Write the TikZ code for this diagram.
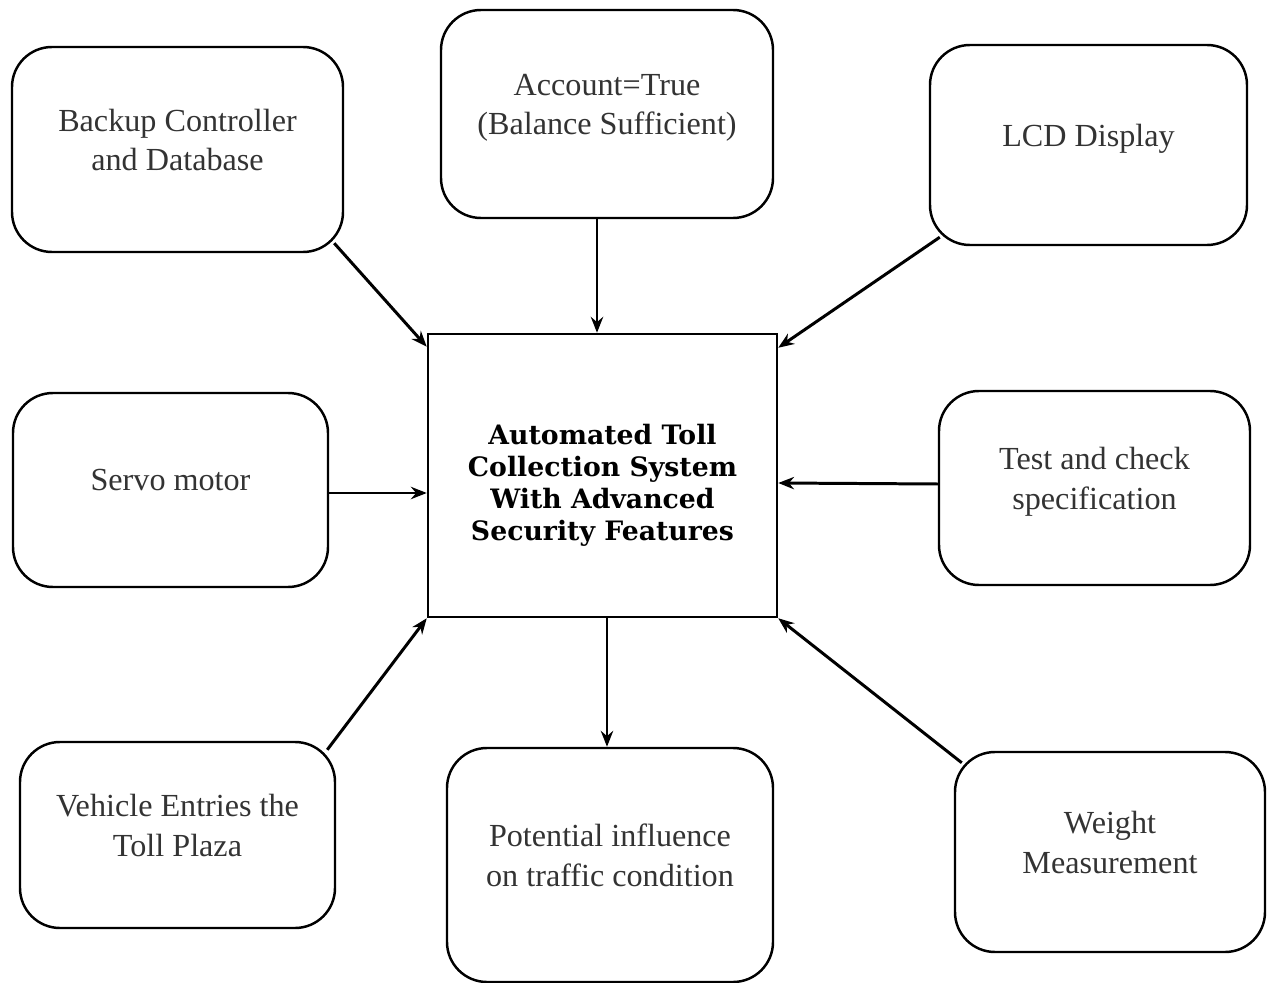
\documentclass[tikz,border=0pt]{standalone}
\usepackage{fontspec}
\setmainfont{Liberation Serif}
\newfontfamily\hubfont{DejaVu Serif}
\usetikzlibrary{arrows.meta}

\begin{document}
\begin{tikzpicture}[x=0.2mm,y=-0.2mm,
    box/.style = {draw, rounded corners=8mm, line width=1.4pt, align=center, text=black!80,
                  text depth=11pt, font=\fontsize{18.3}{22.7}\selectfont},
    hub/.style = {draw, line width=1.4pt, align=center, text height=77pt,
                  font=\hubfont\bfseries\fontsize{15.2}{18.1}\selectfont},
    arr/.style = {-{Stealth[length=9pt,width=7pt]}, line width=1.7pt}]
        \useasboundingbox (0,0) rectangle (1267,983);
        \node[hub] (hub) [minimum width=69.8mm, minimum height=56.6mm] at (602.5,475.5) {Automated Toll\\Collection System\\With Advanced\\Security Features};
        \node[box] (backup) [minimum width=66.2mm, minimum height=41mm] at (177.5,149.5) {Backup Controller\\and Database};
        \node[box] (account) [minimum width=66.4mm, minimum height=41.6mm] at (607,114) {Account=True\\(Balance Sufficient)};
        \node[box] (lcd) [minimum width=63.4mm, minimum height=40mm] at (1088.5,145) {LCD Display};
        \node[box] (servo) [minimum width=63mm, minimum height=38.8mm] at (170.5,490) {Servo motor};
        \node[box] (test) [minimum width=62.2mm, minimum height=38.8mm] at (1094.5,488) {Test and check\\specification};
        \node[box] (vehicle) [minimum width=63mm, minimum height=37.2mm] at (177.5,835) {Vehicle Entries the\\Toll Plaza};
        \node[box] (traffic) [minimum width=65.2mm, minimum height=46.8mm] at (610,865) {Potential influence\\on traffic condition};
        \node[box] (weight) [minimum width=62mm, minimum height=40mm] at (1110,852) {Weight\\Measurement};
        \draw[arr] ([shift={(-10,-10)}]backup.south east) -- ([yshift=-2.8mm]hub.north west);
        \draw[arr] ([xshift=-2mm]account.south) -- ([xshift=-2mm]account.south |- hub.north);
        \draw[arr] ([shift={(11,-9)}]lcd.south west) -- ([yshift=-3mm]hub.north east);
        \draw[arr] ([yshift=-0.6mm]servo.east) -- ([yshift=-0.6mm]servo.east -| hub.west);
        \draw[arr] ([yshift=0.8mm]test.west) -- ([yshift=-1.5mm]hub.east);
        \draw[arr] ([shift={(-9,9)}]vehicle.north east) -- (hub.south west);
        \draw[arr] ([xshift=0.9mm]hub.south) -- ([xshift=0.9mm]hub.south |- traffic.north);
        \draw[arr] ([shift={(8,12)}]weight.north west) -- (hub.south east);
\end{tikzpicture}
\end{document}
